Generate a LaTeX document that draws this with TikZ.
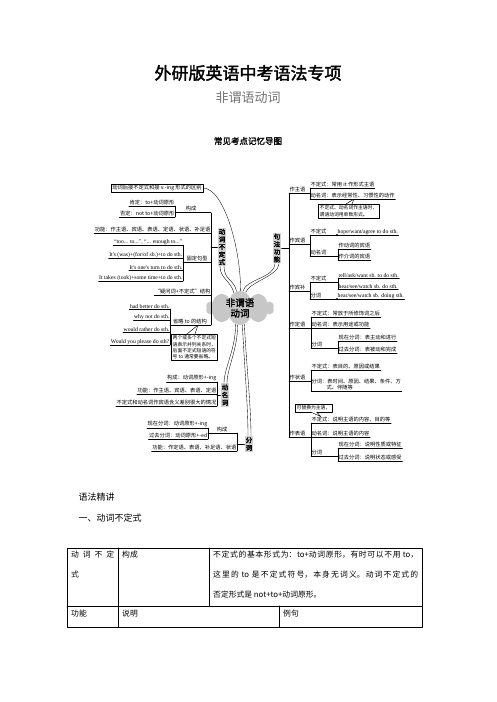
\documentclass[tikz,border=0pt]{standalone}
\usepackage{fontspec}
\setmainfont{Noto Sans CJK SC}[AutoFakeBold=2]
\newfontfamily\enfont{Liberation Serif}
\XeTeXlinebreaklocale "zh"
\XeTeXlinebreakskip=0pt plus 1pt
\usetikzlibrary{shapes.symbols,calc}

\newcommand\mmfont{\fontsize{5.25}{6.4}\selectfont}
\newcommand\notefont{\fontsize{4.8}{6.3}\selectfont}
\newcommand\bodyfont{\fontsize{9}{11}\selectfont}
\newcommand\tabfont{\fontsize{7.8}{20}\selectfont}

\tikzset{
  ul/.style={append after command={(\tikzlastnode.south west) edge (\tikzlastnode.south east)}},
  lf/.style={anchor=south east,inner sep=0.5pt,font=\mmfont,ul},
  rf/.style={anchor=south west,inner sep=0.5pt,font=\mmfont,ul},
  en/.style={font=\enfont\fontsize{5.7}{6.6}\selectfont},
  grp/.style={anchor=south,inner sep=0.5pt,font=\mmfont},
  topic/.style={fill=black!18,inner sep=1pt,align=center,font=\fontsize{6.5}{7.6}\selectfont\bfseries},
  note/.style={draw,fill=white,inner sep=1.5pt,align=left,font=\notefont},
  branch/.style={line width=0.35pt},
}

\begin{document}
\begin{tikzpicture}[x=1pt,y=-1pt,line cap=round,line join=round,line width=0.45pt]
\useasboundingbox (0,0) rectangle (496,702);

% page titles
\node[font=\fontsize{17}{20}\selectfont\bfseries] (title) at (248,73) {外研版英语中考语法专项};
\node[font=\fontsize{13}{15}\selectfont,text=black!55] (subtitle) at (248,98) {非谓语动词};
\node[font=\fontsize{8.5}{10}\selectfont\bfseries] (maptitle) at (248,141) {常见考点记忆导图};

% centre and main topics
\node[cloud,cloud puffs=10,aspect=2,fill=black!22,inner sep=-2pt,minimum width=68,minimum height=34,
      align=center,font=\fontsize{9.5}{10.5}\selectfont\bfseries] (root) at (240,308) {非谓语\\动词};
\node[topic] (inf) at (222,247) {动\\词\\不\\定\\式};
\node[topic] (ger) at (225,395) {动\\名\\词};
\node[topic] (part) at (249,444) {分\\词};
\node[topic] (syn) at (277,248) {句\\法\\功\\能};
\node[draw,inner sep=1.2pt,font=\mmfont] (diff) at (157,188) {动词后接不定式和接 v.-ing 形式的区别};

\draw[branch] (root.112) .. controls +(-3,-12) and +(0,12) .. ([xshift=-2]inf.south);
\draw[branch] (root.102) .. controls +(-2,-12) and +(0,14) .. ([xshift=2]inf.south);
\draw[branch] (root.88) .. controls +(0,-45) and +(20,0) .. (diff.east);
\draw[branch] (root.80) .. controls +(3,-12) and +(0,14) .. ([xshift=-2]syn.south);
\draw[branch] (root.70) .. controls +(3,-10) and +(0,12) .. ([xshift=2]syn.south);
\draw[branch] (root.255) .. controls +(0,25) and +(0,-15) .. ([xshift=-1]ger.north);
\draw[branch] (root.262) .. controls +(0,25) and +(0,-15) .. ([xshift=2]ger.north);
\draw[branch] (root.278) .. controls +(2,40) and +(0,-30) .. ([xshift=-1]part.north);
\draw[branch] (root.285) .. controls +(2,40) and +(0,-30) .. ([xshift=2]part.north);

% infinitive
\coordinate (mv1t) at (211,213);
\coordinate (mv1b) at (211,325);
\draw (mv1t) -- (mv1b);
\draw (inf.west) -- (inf.west -| mv1t);
\node[lf] (pos) at (175,206) {肯定：to+动词原形};
\node[lf] (neg) at (175,217) {否定：not to+动词原形};
\draw (pos.south east) -- (neg.south east);
\node[grp] (form1) at (191,212) {构成};
\draw (pos.south east |- form1.south) -- (form1.south -| mv1t);
\node[lf] (use1) at (211,233) {功能：作主语、宾语、表语、定语、状语、补足语};
\node[lf,en] (pat1) at (183,245) {“too... to...”, “... enough to...”};
\node[lf,en] (pat2) at (183,258) {It's (was)+(for/of sb.)+to do sth.};
\node[lf,en] (pat3) at (183,270) {It's one's turn to do sth.};
\node[lf,en] (pat4) at (183,281) {It takes (took)+some time+to do sth.};
\draw (pat1.south east) -- (pat4.south east);
\node[grp] (fixed) at (197,262) {固定句型};
\draw (pat1.south east |- fixed.south) -- (fixed.south -| mv1t);
\node[lf] (wh) at (211,295) {“疑问词+不定式”结构};
\node[lf,en] (om1) at (170,309) {had better do sth.};
\node[lf,en] (om2) at (170,320) {why not do sth.};
\node[lf,en] (om3) at (170,332) {would rather do sth.};
\node[lf,en] (om4) at (170,345) {Would you please do sth?};
\draw (om1.south east) -- (om4.south east);
\node[grp] (omit) at (190,325) {省略 to 的结构};
\draw (om1.south east |- omit.south) -- (omit.south -| mv1t);
\node[note,anchor=north west] (omnote) at (171,334) {两个或多个不定式短\\语表示并列关系时，\\后面不定式短语的符\\号 to 通常要省略。};
\draw[fill=white] ([xshift=16]omnote.north west) -- ([xshift=8]omit.south) -- ([xshift=24]omnote.north west);

% gerund
\coordinate (mv2t) at (217,382);
\coordinate (mv2b) at (217,406);
\draw (mv2t) -- (mv2b);
\draw (ger.west) -- (ger.west -| mv2t);
\node[lf] (gform) at (mv2t) {构成：动词原形+-ing};
\node[lf] (guse) at (217,394) {功能：作主语、宾语、表语、定语};
\node[lf] (gdiff) at (mv2b) {不定式和动名词作宾语含义差别很大的情况};

% participle
\coordinate (mv3t) at (237,433);
\coordinate (mv3b) at (237,451);
\draw (mv3t) -- (mv3b);
\draw (part.west) -- (part.west -| mv3t);
\node[lf] (pres) at (208,428) {现在分词：动词原形+-ing};
\node[lf] (past) at (208,439) {过去分词：动词原形+-ed};
\draw (pres.south east) -- (past.south east);
\node[grp] (form3) at (222,433) {构成};
\draw (pres.south east |- form3.south) -- (mv3t);
\node[lf] (puse) at (mv3b) {功能：作定语、表语、补足语、状语};

% syntax functions
\coordinate (mv4t) at (289,193);
\coordinate (mv4b) at (289,437);
\draw (mv4t) -- (mv4b);
\draw (syn.east) -- (syn.east -| mv4t);
% subject
\node[rf] (subj) at (mv4t) {作主语};
\node[rf] (subj1) at (310,188) {不定式：常用 it 作形式主语};
\node[rf] (subj2) at (310,199) {动名词：表示经常性、习惯性的动作};
\draw (subj1.south west) -- (subj2.south west);
\draw (subj.south east) -- (subj.south east -| subj1.south west);
\node[note,anchor=north west] (subjnote) at (318,204) {不定式、动名词作主语时，\\谓语动词用单数形式。};
\draw[fill=white] ([xshift=28]subjnote.north west) -- ([xshift=44]subj2.south west) -- ([xshift=34]subjnote.north west);
% object
\node[rf] (obj) at (289,244) {作宾语};
\draw (obj.south east) -- (obj.south east -| subj1.south west);
\node[rf] (obj1) at (310,235) {不定式};
\coordinate (dot1) at (337,235);
\draw (obj1.south east) -- (dot1);
\fill (dot1) circle (1.1pt);
\node[rf,en] (obj1a) at (dot1) {hope/want/agree to do sth.};
\node[rf] (obj2) at (310,256) {动名词};
\draw (obj1.south west) -- (obj2.south west);
\node[rf] (obj2a) at (338,249) {作动词的宾语};
\node[rf] (obj2b) at (338,260) {作介词的宾语};
\draw (obj2a.south west) -- (obj2b.south west);
\draw (obj2.south east) -- (obj2.south east -| obj2a.south west);
% object complement
\node[rf] (oc) at (289,291) {作宾补};
\node[rf] (oc1) at (310,282) {不定式};
\node[rf,en] (oc1a) at (338,278) {tell/ask/want sb. to do sth.};
\node[rf,en] (oc1b) at (338,289) {hear/see/watch sb. do sth.};
\draw (oc1a.south west) -- (oc1b.south west);
\draw (oc1.south east) -- (oc1.south east -| oc1a.south west);
\node[rf] (oc2) at (310,299) {分词};
\coordinate (dot2) at (337,299);
\draw (oc2.south east) -- (dot2);
\fill (dot2) circle (1.1pt);
\node[rf,en] (oc2a) at (dot2) {hear/see/watch sb. doing sth.};
\draw (oc1.south west) -- (oc2.south west);
\draw (oc.south east) -- (oc.south east -| oc1.south west);
% attribute
\node[rf] (attr) at (289,328) {作定语};
\node[rf] (attr1) at (311,317) {不定式：常放于所修饰词之后};
\node[rf] (attr2) at (311,328) {动名词：表示用途或功能};
\node[rf] (attr3) at (311,348) {分词};
\draw (attr1.south west) -- (attr3.south west);
\draw (attr.south east) -- (attr2.south west);
\node[rf] (attr3a) at (338,341) {现在分词：表主动和进行};
\node[rf] (attr3b) at (338,353) {过去分词：表被动和完成};
\draw (attr3a.south west) -- (attr3b.south west);
\draw (attr3.south east) -- (attr3.south east -| attr3a.south west);
% adverbial
\node[rf] (adv) at (289,381) {作状语};
\node[rf] (adv1) at (311,370) {不定式：表目的、原因或结果};
\node[rf,align=left] (adv2) at (311,391) {分词：表时间、原因、结果、条件、方\\\hspace{15pt}式、伴随等};
\draw (adv1.south west) -- (adv2.south west);
\draw (adv.south east) -- (adv.south east -| adv1.south west);
% predicative
\node[note,anchor=north west] (prednote) at (295,404) {可替换为主语，};
\node[rf] (pred) at (mv4b) {作表语};
\node[rf] (pred1) at (311,423) {不定式：说明主语的内容、目的等};
\node[rf] (pred2) at (311,437) {动名词：说明主语的内容};
\node[rf] (pred3) at (311,456) {分词};
\draw (pred1.south west) -- (pred3.south west);
\draw (pred.south east) -- (pred2.south west);
\node[rf] (pred3a) at (338,448) {现在分词：说明性质或特征};
\node[rf] (pred3b) at (338,461) {过去分词：说明状态或感受};
\draw (pred3a.south west) -- (pred3b.south west);
\draw (pred3.south east) -- (pred3.south east -| pred3a.south west);
\draw[fill=white] ([xshift=-3]prednote.south) -- ([xshift=10]pred1.north west) -- ([xshift=3]prednote.south);

% text below the map
\node[anchor=west,font=\bodyfont] (intro) at (75,497) {语法精讲};
\node[anchor=west,font=\bodyfont] (sec1) at (75,518) {一、动词不定式};

% table
\draw[line width=0.8pt] (67,548) rectangle (422,627);
\draw[line width=0.8pt] (67,606) -- (422,606);
\draw[line width=0.8pt] (118,548) -- (118,627);
\draw[line width=0.8pt] (209,548) -- (209,606);
\draw[line width=0.8pt] (279,606) -- (279,627);
\node[anchor=north west,align=left,font=\tabfont,inner sep=0pt] (c11) at (71,551) {\makebox[43pt][s]{动 词 不 定}\\式};
\node[anchor=north west,font=\tabfont,inner sep=0pt] (c12) at (122,551) {构成};
\node[anchor=north west,text width=205pt,align=justify,font=\tabfont,inner sep=0pt] (c13) at (213,551)
  {不定式的基本形式为：to+动词原形，有时可以不用 to，\linebreak
   这里的 to 是不定式符号，本身无词义。动词不定式的\linebreak
   否定形式是 not+to+动词原形。};
\node[anchor=north west,font=\tabfont,inner sep=0pt] (c21) at (71,610) {功能};
\node[anchor=north west,font=\tabfont,inner sep=0pt] (c22) at (122,610) {说明};
\node[anchor=north west,font=\tabfont,inner sep=0pt] (c23) at (283,610) {例句};
\end{tikzpicture}
\end{document}
